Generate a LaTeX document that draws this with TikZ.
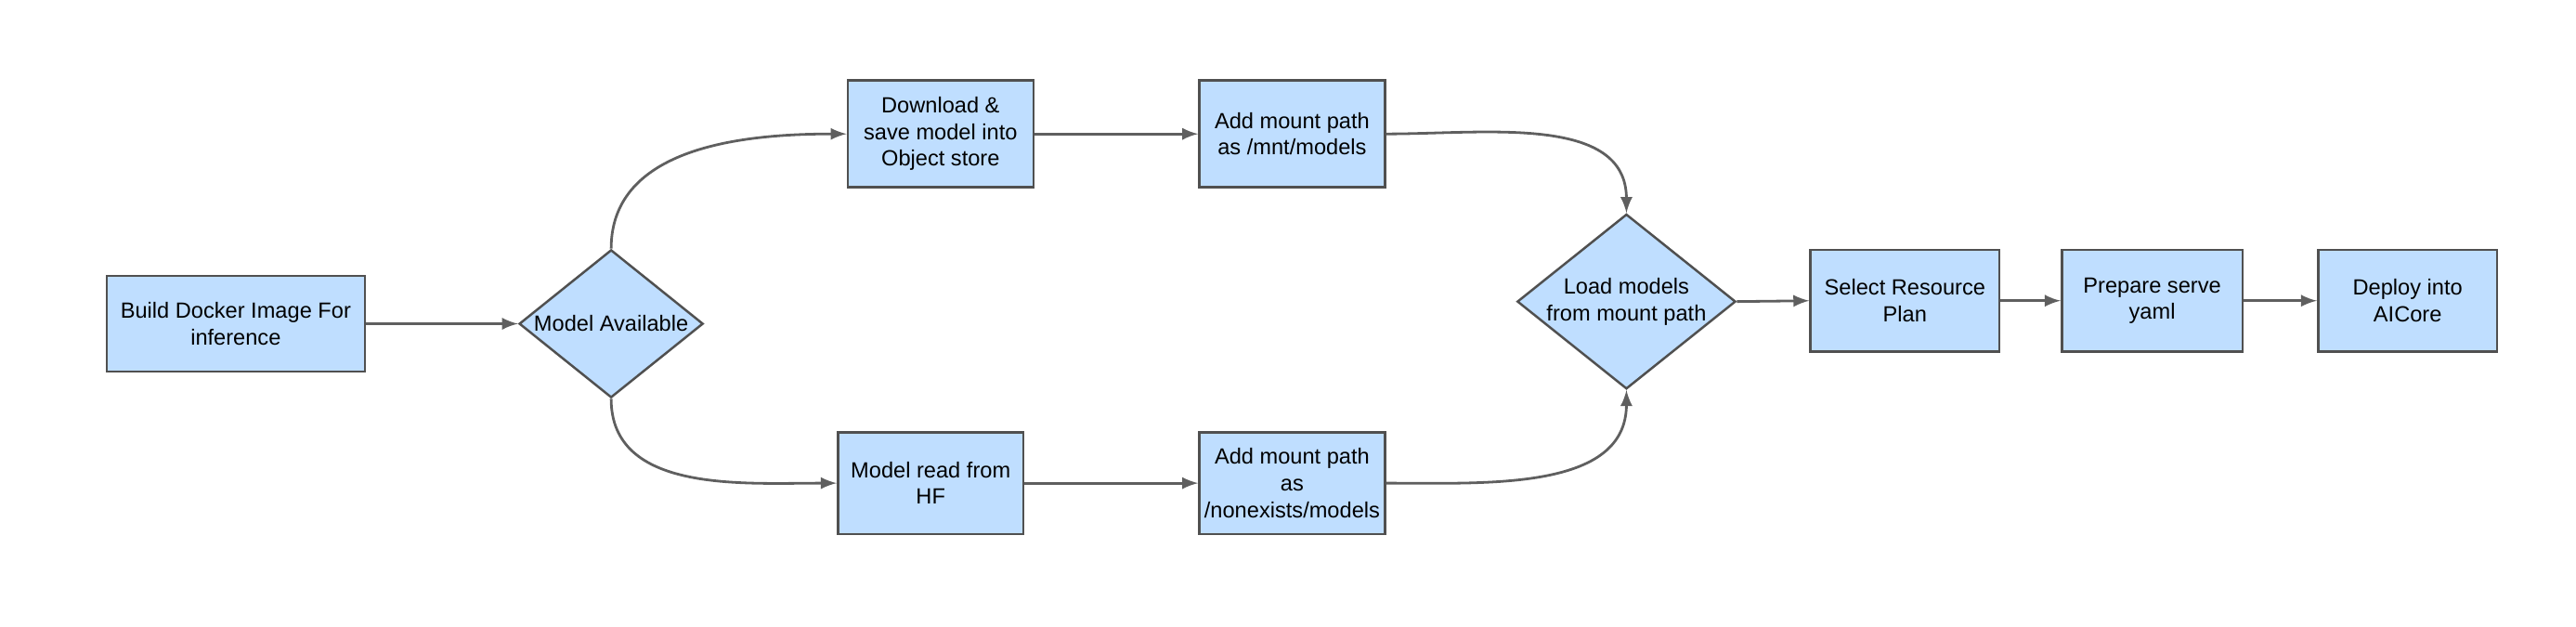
\documentclass[tikz,border=0pt]{standalone}
\usepackage{fontspec}
\setmainfont{Liberation Sans}
\usetikzlibrary{shapes.geometric, arrows}
\definecolor{boxfill}{RGB}{191,222,255}
\definecolor{boxline}{RGB}{80,80,80}
\definecolor{wire}{RGB}{95,95,95}

\begin{document}
\begin{tikzpicture}[x=0.02cm, y=-0.02cm]
        \tikzstyle{blk}  = [draw=boxline, fill=boxfill, line width=0.8pt, inner sep=1pt, align=center, font=\fontsize{7.6}{9.2}\selectfont]
        \tikzstyle{dec}  = [blk, diamond, aspect=1.25, inner sep=0pt]
        \tikzstyle{flow} = [->, >=latex, draw=wire, line width=0.9pt]

        \useasboundingbox (0,0) rectangle (1568,381);

        % Blocurile.
        \node[blk, minimum width=157*0.02cm, minimum height=58*0.02cm] (build) at (143.5,197) {Build Docker Image For\\inference};
        \node[dec, minimum width=112*0.02cm, minimum height=90*0.02cm] (avail) at (372,197) {Model Available};
        \node[blk, minimum width=113*0.02cm, minimum height=65*0.02cm] (down) at (572.5,81.5) {Download \&\\save model into\\Object store};
        \node[blk, minimum width=113*0.02cm, minimum height=65*0.02cm] (mnt) at (786.5,81.5) {Add mount path\\as /mnt/models};
        \node[blk, minimum width=113*0.02cm, minimum height=62*0.02cm] (hf) at (566.5,294) {Model read from\\HF};
        \node[blk, minimum width=113*0.02cm, minimum height=62*0.02cm] (nex) at (786.5,294) {Add mount path\\as\\/nonexists/models};
        \node[dec, minimum width=112*0.02cm, minimum height=91*0.02cm] (load) at (990,183.5) {Load models\\from mount path};
        \node[blk, minimum width=115*0.02cm, minimum height=62*0.02cm] (plan) at (1159.5,183) {Select Resource\\Plan};
        \node[blk, minimum width=110*0.02cm, minimum height=62*0.02cm] (yaml) at (1310,183) {Prepare serve\\yaml};
        \node[blk, minimum width=109*0.02cm, minimum height=62*0.02cm] (ai) at (1465.5,183) {Deploy into\\AICore};

        % Legaturile.
        \draw[flow] (build.east) -- (avail.west);
        \draw[flow] (avail.north) to[out=90, in=180] (down.west);
        \draw[flow] (avail.south) to[out=-90, in=180] (hf.west);
        \draw[flow] (down) -- (mnt);
        \draw[flow] (hf) -- (nex);
        \draw[flow] (mnt.east) to[out=0, in=90] (load.north);
        \draw[flow] (nex.east) to[out=0, in=-90] (load.south);
        \draw[flow] (load.east) -- (plan.west);
        \draw[flow] (plan) -- (yaml);
        \draw[flow] (yaml) -- (ai);
\end{tikzpicture}
\end{document}
